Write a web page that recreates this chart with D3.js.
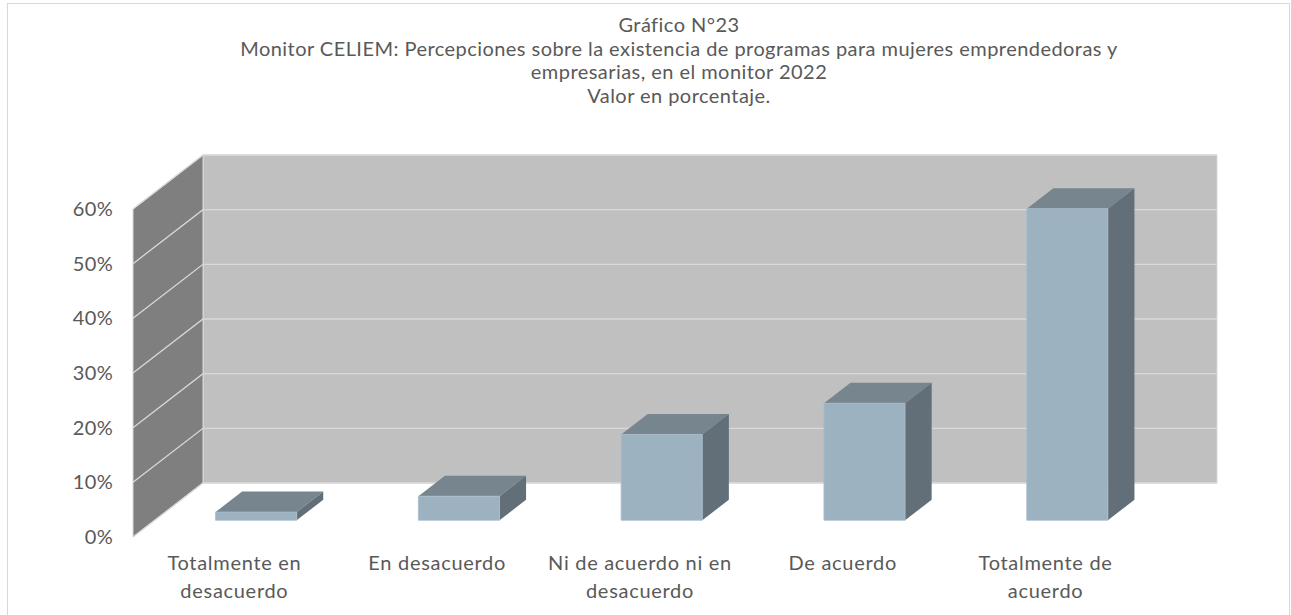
<!DOCTYPE html>
<html>
<head>
<meta charset="utf-8">
<script src="https://cdn.jsdelivr.net/npm/d3@7"></script>
<style>
  body { margin: 0; background: #fff; }
  text { font-family: Lato, "Noto Sans", sans-serif; fill: #595959; }
</style>
</head>
<body>
<div id="chart"></div>
<script>
// chart data
var categories = [
    ["Totalmente en", "desacuerdo"],
    ["En desacuerdo"],
    ["Ni de acuerdo ni en", "desacuerdo"],
    ["De acuerdo"],
    ["Totalmente de", "acuerdo"]
];
var values = [1.5, 4.4, 15.7, 21.4, 57.0];
var yTicks = [0, 10, 20, 30, 40, 50, 60];
var titleLines = [
    "Gráfico N°23",
    "Monitor CELIEM: Percepciones sobre la existencia de programas para mujeres emprendedoras y",
    "empresarias, en el monitor 2022",
    "Valor en porcentaje."
];

var width = 1291, height = 615;
var depthX = 70, depthY = 54;       // oblique offset of the full floor depth
var barFront = 0.31, barBack = 0.69; // bars sit in the middle of the depth

var svg = d3.select("#chart")
    .append("svg")
    .attr("width", width)
    .attr("height", height);

// chart area border
svg.append("rect")
    .attr("x", 7.5)
    .attr("y", 3.5)
    .attr("width", 1282)
    .attr("height", 640)
    .attr("fill", "none")
    .attr("stroke", "#d9d9d9");

// scales on the front plane
var xScale = d3.scaleBand()
    .domain(d3.range(categories.length))
    .range([133, 1147])
    .paddingInner(0.6)
    .paddingOuter(0.3);

var yScale = d3.scaleLinear()
    .domain([0, 60])
    .range([537, 209]);

function pt(x, v, depth) {
    return [x + depth * depthX, yScale(v) - depth * depthY];
}
function poly(points) {
    return points.map(function(p) { return p.join(","); }).join(" ");
}

var x0 = xScale.range()[0], x1 = xScale.range()[1];

// back wall
svg.append("polygon")
    .attr("points", poly([pt(x0, 0, 1), pt(x0, 60, 1), pt(x1, 60, 1), pt(x1, 0, 1)]))
    .attr("fill", "#c0c0c0")
    .attr("stroke", "#d9d9d9")
    .attr("stroke-width", 1);

// side wall
svg.append("polygon")
    .attr("points", poly([pt(x0, 0, 0), pt(x0, 60, 0), pt(x0, 60, 1), pt(x0, 0, 1)]))
    .attr("fill", "#7f7f7f")
    .attr("stroke", "#d9d9d9")
    .attr("stroke-width", 1);

// gridlines on both walls
yTicks.forEach(function(t) {
    svg.append("polyline")
        .attr("points", poly([pt(x0, t, 0), pt(x0, t, 1), pt(x1, t, 1)]))
        .attr("fill", "none")
        .attr("stroke", "#d9d9d9")
        .attr("stroke-width", 1.3);
});

// y tick labels
svg.selectAll("text.y-label")
    .data(yTicks)
    .enter().append("text")
    .attr("class", "y-label")
    .attr("x", 113)
    .attr("y", function(d) { return yScale(d) + 7; })
    .attr("text-anchor", "end")
    .attr("font-size", "20px")
    .attr("letter-spacing", "0.3px")
    .text(function(d) { return d + "%"; });

// 3d bars
var bars = svg.selectAll("g.bar")
    .data(values)
    .enter().append("g")
    .attr("class", "bar");

bars.each(function(v, i) {
    var g = d3.select(this);
    var a = xScale(i), b = xScale(i) + xScale.bandwidth();
    // top face
    g.append("polygon")
        .attr("points", poly([pt(a, v, barFront), pt(a, v, barBack), pt(b, v, barBack), pt(b, v, barFront)]))
        .attr("fill", "#77858f");
    // right side face
    g.append("polygon")
        .attr("points", poly([pt(b, 0, barFront), pt(b, v, barFront), pt(b, v, barBack), pt(b, 0, barBack)]))
        .attr("fill", "#636f78");
    // front face
    g.append("polygon")
        .attr("points", poly([pt(a, 0, barFront), pt(a, v, barFront), pt(b, v, barFront), pt(b, 0, barFront)]))
        .attr("fill", "#9db2c1")
        .attr("stroke", "#a9bccb")
        .attr("stroke-width", 0.8);
});

// category labels
svg.selectAll("text.x-label")
    .data(categories)
    .enter().append("text")
    .attr("class", "x-label")
    .attr("text-anchor", "middle")
    .attr("font-size", "20px")
    .attr("letter-spacing", "0.7px")
    .each(function(lines, i) {
        var cx = xScale(i) + xScale.bandwidth() / 2;
        d3.select(this).selectAll("tspan")
            .data(lines)
            .enter().append("tspan")
            .attr("x", cx)
            .attr("y", function(d, j) { return 570 + j * 28; })
            .text(function(d) { return d; });
    });

// title
svg.selectAll("text.title")
    .data(titleLines)
    .enter().append("text")
    .attr("class", "title")
    .attr("x", 679)
    .attr("y", function(d, i) { return 32 + i * 23.5; })
    .attr("text-anchor", "middle")
    .attr("font-size", "20px")
    .attr("letter-spacing", "0.45px")
    .text(function(d) { return d; });
</script>
</body>
</html>
